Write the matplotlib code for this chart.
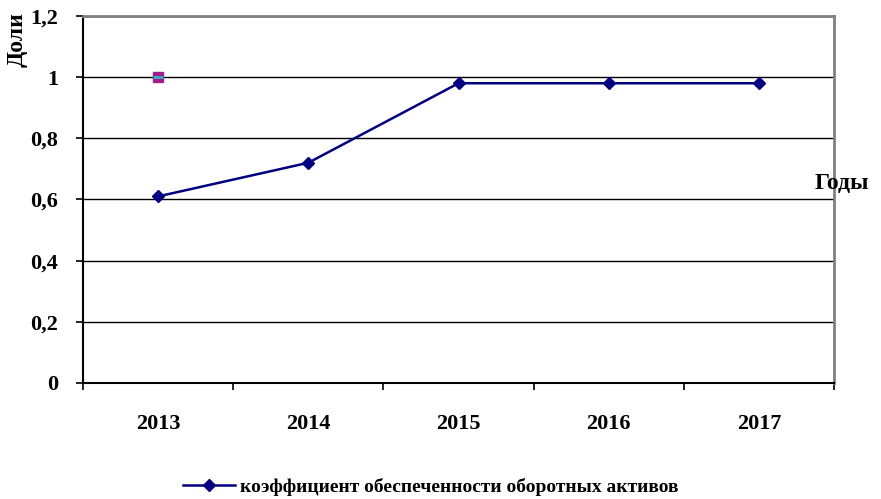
import matplotlib.pyplot as plt
from matplotlib.lines import Line2D

plt.rcParams['font.family'] = ['Liberation Serif', 'DejaVu Serif']

years = ['2013', '2014', '2015', '2016', '2017']
coef = [0.61, 0.72, 0.98, 0.98, 0.98]
extra_value = 1.0  # lone marker at 2013
y_ticks = [0, 0.2, 0.4, 0.6, 0.8, 1.0, 1.2]
y_labels = ['0', '0,2', '0,4', '0,6', '0,8', '1', '1,2']
series_name = 'коэффициент обеспеченности оборотных активов'

fig = plt.figure(figsize=(8.81, 4.99), dpi=100)
ax = fig.add_axes([0.0942, 0.2325, 0.8525, 0.7355])

x = list(range(len(years)))
ax.plot(x, coef, color='#000080', lw=1.8, marker='D', ms=6, label=series_name)
ax.plot([0], [extra_value], marker='s', ms=7, color='#a0208a', mec='#a0208a', ls='none')
ax.plot([0], [extra_value], marker='_', ms=7, mew=2, color='#30b0d0', ls='none')

ax.set_xlim(-0.5, len(years) - 0.5)
ax.set_ylim(0, 1.2)
ax.set_yticks(y_ticks)
ax.set_yticklabels(y_labels, fontsize=16, fontweight='bold')
ax.set_xticks(x)
ax.set_xticklabels(years, fontsize=16, fontweight='bold')
ax.set_xticks([i - 0.5 for i in range(len(years) + 1)], minor=True)
ax.tick_params(axis='x', which='major', length=0, pad=22)
ax.tick_params(axis='x', which='minor', length=5, width=1.2, direction='out')
ax.tick_params(axis='y', length=5, width=1.2, direction='out', pad=13)

ax.grid(axis='y', color='black', lw=1)
ax.set_axisbelow(True)
for s in ['left', 'bottom']:
    ax.spines[s].set_color('black')
    ax.spines[s].set_linewidth(1.5)
for s in ['top', 'right']:
    ax.spines[s].set_color('#808080')
    ax.spines[s].set_linewidth(2)

fig.text(0.02, 0.976, 'Доли', rotation=90, fontsize=17, fontweight='bold',
         ha='center', va='top')
fig.text(0.925, 0.632, 'Годы', fontsize=17, fontweight='bold', ha='left', va='center')

handle = Line2D([], [], color='#000080', lw=1.8, marker='D', ms=6)
fig.legend([handle], [series_name], loc='center', bbox_to_anchor=(0.489, 0.024),
           frameon=False, prop={'size': 14, 'weight': 'bold'},
           handlelength=2.7, handletextpad=0.25, borderpad=0, borderaxespad=0)

fig.savefig('out.png', dpi=100)
